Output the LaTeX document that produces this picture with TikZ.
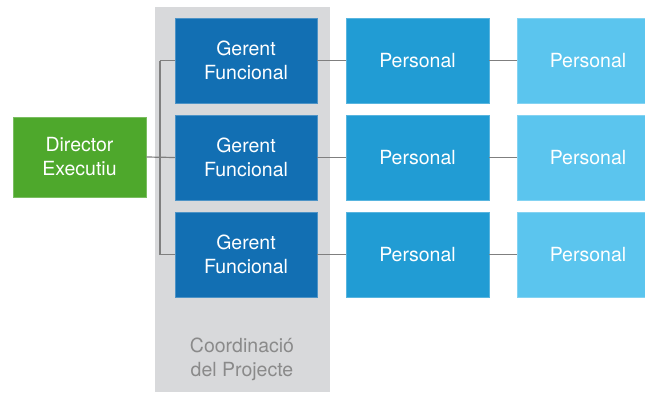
\documentclass[tikz,border=0pt]{standalone}
\usepackage{fontspec}
\setmainfont{TeX Gyre Heros}
\definecolor{dirgreen}{HTML}{4EA82C}
\definecolor{gfblue}{HTML}{126FB3}
\definecolor{psblue}{HTML}{219CD4}
\definecolor{pllight}{HTML}{5BC5EE}
\definecolor{colgray}{HTML}{D8D9DB}
\definecolor{linkgray}{HTML}{7F7F7F}
\definecolor{labelgray}{HTML}{8A8A8A}
\begin{document}
\begin{tikzpicture}[x=1pt,y=1pt,line width=1.2pt,
 font=\fontsize{19.5}{24}\selectfont,
 box/.style={rectangle,minimum width=142pt,minimum height=85pt,inner sep=0pt,
  align=center,text=white,fill=#1,draw=#1!75!white,line width=.6pt},
 link/.style={draw=linkgray,line width=1.2pt}]
 \useasboundingbox (0,0) rectangle (645,392);
 \clip (0,0) rectangle (645,392);
 % coordination column
 \fill[colgray] (155,0) rectangle (330,385);
 \node[text=labelgray,align=center] (coord) at (242,32.5) {Coordinació\\del Projecte};
 \coordinate (bus) at (160,0);
 \foreach \i/\y in {1/331.5,2/234.5,3/137.5}{
  \node[box=gfblue] (gf\i) at (246,\y) {Gerent\\Funcional};
  \node[box=psblue,minimum width=143pt] (ps\i) at (417.5,\y) {Personal};
  \node[box=pllight] (pl\i) at (588,\y) {Personal};
 }
 \node[box=dirgreen,minimum width=133pt,minimum height=80pt] (dir) at (79.5,235)
  {Director\\Executiu};
 % links
 \draw[link] (dir.east) -- (gf2.west);
 \draw[link] (gf1.west -| bus) -- (gf3.west -| bus);
 \foreach \i in {1,2,3}{
  \draw[link] (gf\i.west -| bus) -- (gf\i.west);
  \draw[link] (gf\i.east) -- (ps\i.west);
  \draw[link] (ps\i.east) -- (pl\i.west);
 }
\end{tikzpicture}
\end{document}
